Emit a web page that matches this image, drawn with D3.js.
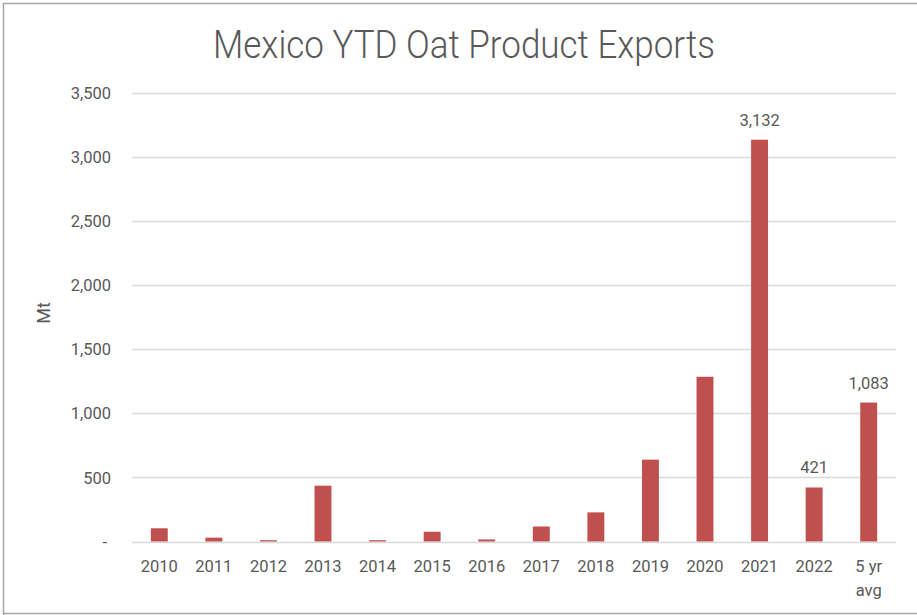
<!DOCTYPE html>
<html><head><meta charset="utf-8">
<script src="https://cdn.jsdelivr.net/npm/d3@7"></script>
<style>body{margin:0;background:#fff}svg{display:block}</style>
</head><body>
<svg id="c" width="917" height="615"></svg>
<script>
const categories = ["2010","2011","2012","2013","2014","2015","2016","2017","2018","2019","2020","2021","2022","5 yr avg"];
const values = [103, 30, 10, 435, 10, 76, 16, 117, 227, 638, 1284, 3132, 421, 1083];
const labelled = ["2021","2022","5 yr avg"];
const yTicks = [0,500,1000,1500,2000,2500,3000,3500];
const title = "Mexico YTD Oat Product Exports";
const yTitle = "Mt";

const svg = d3.select("#c");
const textCol = "#595959";
const font = "Roboto, 'Liberation Sans', sans-serif";

// border
svg.append("path").attr("d","M3.5,616 V3.5 H917 M3.5,613.5 H917")
  .attr("fill","none").attr("stroke","#a6a6a6").attr("stroke-width",1.5);

const x = d3.scaleBand().domain(categories).range([132,896]).paddingInner(0.69).paddingOuter(0.345);
const y = d3.scaleLinear().domain([0,3500]).range([541.5,92.5]);

// gridlines
svg.append("g").selectAll("line").data(yTicks).join("line")
  .attr("x1",132).attr("x2",896)
  .attr("y1",d=>Math.round(y(d))+0.5).attr("y2",d=>Math.round(y(d))+0.5)
  .attr("stroke","#d9d9d9").attr("stroke-width",1.3);

// y axis labels
const yAxis = d3.axisLeft(y).tickValues(yTicks).tickSize(0).tickPadding(0)
  .tickFormat(d=> d===0 ? "-" : d3.format(",")(d));
const ga = svg.append("g").attr("transform","translate(111,0)").call(yAxis);
ga.select(".domain").remove();
ga.selectAll("text").attr("font-family",font).attr("font-size",16.5).attr("fill",textCol).attr("dy","0.35em");
ga.selectAll(".tick").filter(d=>d===0).select("text").attr("dx",-4);

// bars
svg.append("g").selectAll("rect").data(categories).join("rect")
  .attr("x",d=>x(d)).attr("width",x.bandwidth())
  .attr("y",(d,i)=>y(values[i])).attr("height",(d,i)=>y(0)-y(values[i]))
  .attr("fill","#c0504d");

// x labels
const xl = svg.append("g").selectAll("text").data(categories).join("text")
  .attr("x",d=>x(d)+x.bandwidth()/2).attr("y",572)
  .attr("text-anchor","middle").attr("font-family",font).attr("font-size",16.5).attr("fill",textCol);
xl.each(function(d){
  const t = d3.select(this);
  if(d==="5 yr avg"){
    t.append("tspan").attr("x",x(d)+x.bandwidth()/2).attr("y",572).text("5 yr");
    t.append("tspan").attr("x",x(d)+x.bandwidth()/2).attr("y",596).text("avg");
  } else t.text(d);
});

// data labels
svg.append("g").selectAll("text").data(categories.filter(c=>labelled.includes(c))).join("text")
  .attr("x",d=>x(d)+x.bandwidth()/2)
  .attr("y",d=>y(values[categories.indexOf(d)])-14)
  .attr("text-anchor","middle").attr("font-family",font).attr("font-size",16.5).attr("fill",textCol)
  .text(d=>d3.format(",")(values[categories.indexOf(d)]));

// y title
svg.append("text").attr("transform","translate(50,313) rotate(-90)")
  .attr("text-anchor","middle").attr("font-family",font).attr("font-size",18).attr("fill",textCol).text(yTitle);

// title
svg.append("text").attr("x",464).attr("y",58).attr("text-anchor","middle")
  .attr("font-family",font).attr("font-weight",300).attr("font-size",38.5).attr("fill",textCol)
  .attr("textLength",502).attr("lengthAdjust","spacingAndGlyphs").text(title);
</script>
</body></html>
